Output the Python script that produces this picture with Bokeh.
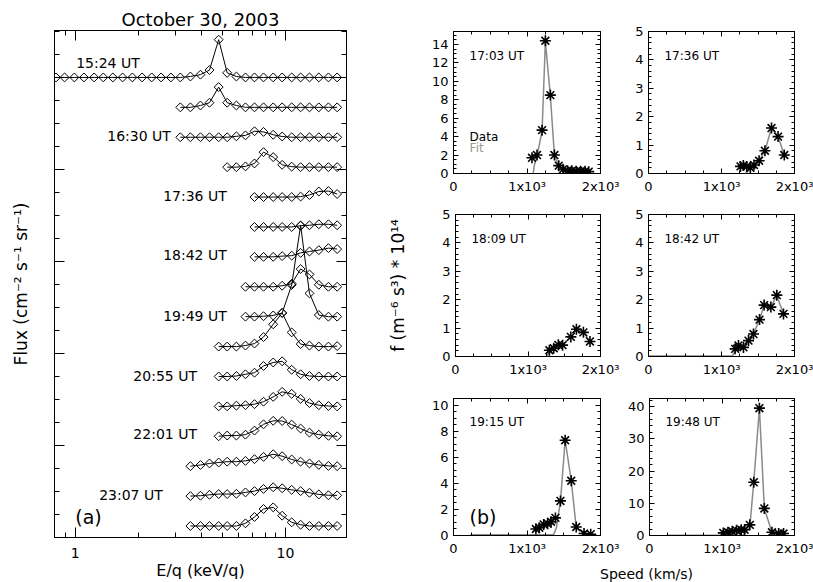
import math
from bokeh.plotting import figure
from bokeh.models import FixedTicker, LinearAxis, LogAxis, CustomJSTickFormatter
from bokeh.layouts import row, column
from bokeh.embed import file_html
from bokeh.resources import INLINE
from bokeh.core.properties import value

FONT = "DejaVu Sans"

# ---------------- panel (a): stacked E/q spectra ----------------
E_KEV = [0.81, 0.89, 0.99, 1.10, 1.23, 1.36, 1.51, 1.68, 1.87, 2.08, 2.31, 2.56, 2.85,
         3.16, 3.53, 3.94, 4.35, 4.81, 5.28, 5.84, 6.45, 7.12, 7.86, 8.74, 9.64,
         10.7, 11.8, 13.0, 14.4, 16.0, 17.6]

SPEC_OFFSET = [5.000, 4.675, 4.350, 4.025, 3.700, 3.375, 3.050, 2.725,
               2.400, 2.075, 1.750, 1.425, 1.100, 0.775, 0.450, 0.125]
SPEC_START = [0, 13, 13, 18, 21, 21, 21, 20, 20, 17, 17, 17, 17, 14, 14, 14]
SPEC_FLUX = [
    [0, 0, 0, 0, 0, 0, 0, 0, 0, 0, 0, 0, 0, 0, 0.01, 0.03, 0.08, 0.41, 0.05, 0.01,
     0, 0, 0, 0, 0, 0, 0, 0, 0, 0, 0],
    [0, 0, 0.02, 0.05, 0.22, 0.05, 0.02, 0, 0, 0, 0, 0, 0, 0, 0, 0, 0, 0],
    [0, 0, 0, 0, 0, 0, 0.01, 0.02, 0.065, 0.058, 0.027, 0.008, 0, 0, 0, 0, 0, 0],
    [0, 0, 0.008, 0.04, 0.163, 0.109, 0.025, 0.005, 0, 0, 0, 0, 0],
    [0, 0, 0, 0, 0, 0.005, 0.022, 0.06, 0.065, 0.033],
    [0, 0, 0, 0, 0, 0.014, 0.018, 0.029, 0.029, 0.018],
    [0, 0, 0, 0.008, 0.013, 0.043, 0.058, 0.073, 0.095, 0.085],
    [0, 0, 0, 0, 0.011, 0.033, 0.193, 0.134, 0.022, 0, 0],
    [0, 0, 0.005, 0.013, 0.04, 0.345, 0.99, 0.253, 0.018, 0, 0],
    [0, 0, 0, 0.011, 0.033, 0.103, 0.242, 0.366, 0.154, 0.027, 0.011, 0, 0, 0.005],
    [0, 0, 0.005, 0.024, 0.041, 0.114, 0.152, 0.165, 0.073, 0.024, 0.005, 0, 0, 0],
    [0, 0, 0.008, 0.013, 0.024, 0.051, 0.103, 0.158, 0.136, 0.082, 0.036, 0.013, 0.004, 0],
    [0, 0.008, 0.008, 0.018, 0.062, 0.13, 0.168, 0.166, 0.127, 0.084, 0.04, 0.018, 0.005, 0],
    [0, 0.013, 0.03, 0.04, 0.049, 0.049, 0.058, 0.076, 0.101, 0.13, 0.109, 0.073, 0.049,
     0.03, 0.014, 0.003, 0],
    [0, 0.004, 0.014, 0.022, 0.022, 0.025, 0.04, 0.054, 0.078, 0.096, 0.085, 0.068, 0.054,
     0.036, 0.018, 0.009, 0.008],
    [0, 0, 0, 0, 0, 0, 0.029, 0.098, 0.185, 0.203, 0.112, 0.04, 0.014, 0, 0, 0, 0],
]
TIME_LABELS = ["15:24 UT", "16:30 UT", "17:36 UT", "18:42 UT",
               "19:49 UT", "20:55 UT", "22:01 UT", "23:07 UT"]
TIME_LABEL_X = [1.01, 1.42, 2.62, 2.62, 2.62, 1.89, 1.89, 1.30]
TIME_LABEL_Y = [5.16, 4.36, 3.71, 3.07, 2.41, 1.76, 1.12, 0.46]

# ---------------- panel (b): distribution functions ----------------
PANEL_TIMES = ["17:03 UT", "17:36 UT", "18:09 UT", "18:42 UT", "19:15 UT", "19:48 UT"]
SPEED = [
    [1068, 1136, 1205, 1250, 1318, 1373, 1432, 1490, 1550, 1610, 1670, 1730, 1790, 1840],
    [1260, 1300, 1345, 1395, 1445, 1515, 1595, 1685, 1775, 1860],
    [1295, 1355, 1418, 1477, 1591, 1668, 1764, 1855],
    [1187, 1233, 1301, 1370, 1438, 1521, 1584, 1676, 1758, 1849],
    [1121, 1167, 1227, 1281, 1327, 1387, 1455, 1519, 1602, 1670, 1776, 1867],
    [1018, 1082, 1142, 1200, 1265, 1311, 1384, 1438, 1516, 1584, 1689, 1781, 1849],
]
F_DATA = [
    [1.7, 2.0, 4.7, 14.4, 8.5, 2.0, 0.85, 0.45, 0.3, 0.3, 0.25, 0.25, 0.25, 0.2],
    [0.25, 0.28, 0.25, 0.2, 0.3, 0.45, 0.8, 1.6, 1.3, 0.65],
    [0.22, 0.29, 0.41, 0.40, 0.69, 0.96, 0.85, 0.53],
    [0.27, 0.39, 0.32, 0.56, 0.79, 1.3, 1.81, 1.74, 2.16, 1.5],
    [0.5, 0.6, 0.85, 0.9, 1.05, 1.35, 2.65, 7.3, 4.2, 0.65, 0.15, 0.1],
    [0.8, 1.0, 1.3, 1.6, 1.8, 1.8, 3.3, 16.5, 39.5, 8.4, 1.0, 0.6, 0.6],
]
FIT_SPEED = [
    [1085, 1100, 1136, 1205, 1250, 1318, 1373, 1432, 1490, 1550, 1610, 1670, 1730, 1790, 1840],
    [1330, 1395, 1445, 1515, 1595, 1685, 1775, 1860],
    [1250, 1295, 1355, 1418, 1477, 1591, 1668, 1764, 1855],
    [0, 1150, 1187, 1233, 1301, 1370, 1438, 1521, 1584, 1676, 1758, 1849],
    [230, 1360, 1400, 1455, 1519, 1602, 1670, 1776, 1867],
    [250, 1300, 1384, 1438, 1516, 1584, 1689, 1781, 1849],
]
F_FIT = [
    [0.0, 0.9, 1.9, 4.6, 14.3, 8.4, 2.0, 0.8, 0.4, 0.3, 0.25, 0.25, 0.25, 0.2, 0.2],
    [0.0, 0.18, 0.3, 0.45, 0.8, 1.6, 1.3, 0.65],
    [0.0, 0.15, 0.27, 0.38, 0.42, 0.68, 0.95, 0.84, 0.52],
    [0.02, 0.02, 0.2, 0.33, 0.36, 0.56, 0.79, 1.3, 1.8, 1.74, 2.15, 1.5],
    [0.05, 0.05, 0.6, 2.6, 7.3, 4.2, 0.6, 0.15, 0.1],
    [0.1, 0.1, 2.8, 16.5, 39.5, 8.4, 1.0, 0.5, 0.5],
]
Y_MAX = [15.4, 5.0, 5.0, 5.0, 10.5, 42.5]
Y_STEP = [2, 1, 1, 1, 2, 10]
Y_MINOR = [0.5, 0.2, 0.2, 0.2, 0.5, 2]
X_TICK_LABELS = {0: "0", 1000: "1x10³", 2000: "2x10³"}

BLANK = CustomJSTickFormatter(code="return ''")


def style_axis(ax, major_in, minor_in, label_size=None, standoff=4):
    ax.axis_line_color = "black"
    ax.axis_line_width = 1
    ax.major_tick_in = major_in
    ax.major_tick_out = 0
    ax.minor_tick_in = minor_in
    ax.minor_tick_out = 0
    ax.major_tick_line_color = "black"
    ax.minor_tick_line_color = "black"
    ax.major_label_text_font = FONT
    ax.major_label_text_color = "black"
    if label_size:
        ax.major_label_standoff = standoff
        ax.major_label_text_font_size = label_size
    else:
        ax.major_label_standoff = 0
        ax.major_label_text_font_size = "1px"
        ax.formatter = BLANK
    ax.axis_label_text_font = FONT
    ax.axis_label_text_font_style = "normal"
    ax.axis_label_text_color = "black"


# ---------------- build panel (a) ----------------
pa = figure(width=385, height=582, x_axis_type="log", x_range=(0.797, 19.5),
            y_range=(0, 5.51), output_backend="svg", toolbar_location=None,
            min_border_left=54, min_border_right=39, min_border_top=30,
            min_border_bottom=45, title="October 30, 2003")
pa.grid.visible = False
pa.outline_line_color = "black"
pa.title.align = "center"
pa.title.text_font = FONT
pa.title.text_font_size = "18px"
pa.title.text_font_style = "normal"
pa.title.text_color = "black"
pa.title.standoff = 2

xt_a = FixedTicker(ticks=[1, 10], minor_ticks=[0.9, 2, 3, 4, 5, 6, 7, 8, 9])
yt_a = FixedTicker(ticks=[0, 1, 2, 3, 4, 5],
                   minor_ticks=[k * 0.25 for k in range(1, 23) if k % 4])
pa.xaxis.ticker = xt_a
pa.yaxis.ticker = yt_a
for ax in pa.xaxis:
    style_axis(ax, 10, 5, "14px", 10)
    ax.major_label_overrides = {1: "1", 10: "10"}
    ax.axis_label = "E/q (keV/q)"
    ax.axis_label_text_font_size = "16px"
    ax.axis_label_standoff = 0
for ax in pa.yaxis:
    style_axis(ax, 10, 5)
    ax.axis_label = "Flux (cm⁻² s⁻¹ sr⁻¹)"
    ax.axis_label_text_font_size = "17px"
    ax.axis_label_standoff = 24
top_a = LogAxis(ticker=xt_a)
style_axis(top_a, 10, 5)
pa.add_layout(top_a, "above")
right_a = LinearAxis(ticker=yt_a)
style_axis(right_a, 10, 5)
pa.add_layout(right_a, "right")

for off, start, flux in zip(SPEC_OFFSET, SPEC_START, SPEC_FLUX):
    xs = E_KEV[start:start + len(flux)]
    ys = [off + f for f in flux]
    pa.line(xs, ys, line_color="black", line_width=1)
    pa.scatter(xs, ys, marker="square", angle=math.pi / 4, size=6.3,
               fill_color=None, line_color="black", line_width=1)

pa.text(x=TIME_LABEL_X, y=TIME_LABEL_Y, text=TIME_LABELS, text_font=value(FONT),
        text_font_size="14px", text_align="left", text_baseline="middle",
        text_color="black")
pa.text(x=[1.0], y=[0.22], text=["(a)"], text_font=value(FONT), text_font_size="19px",
        text_align="left", text_baseline="middle", text_color="black")


# ---------------- build panel (b) ----------------
def small_panel(i, width, height, bl, br, bt, bb, ylabel=None, legend=False, tag=None):
    ymax = Y_MAX[i]
    q = figure(width=width, height=height, x_range=(0, 2000), y_range=(0, ymax),
               output_backend="svg", toolbar_location=None,
               min_border_left=bl, min_border_right=br, min_border_top=bt,
               min_border_bottom=bb)
    q.grid.visible = False
    q.outline_line_color = "black"
    xt = FixedTicker(ticks=[0, 1000, 2000], minor_ticks=[250, 500, 750, 1250, 1500, 1750])
    step = Y_STEP[i]
    nmaj = int(ymax // step) + 1
    yt = FixedTicker(ticks=[k * step for k in range(nmaj)],
                     minor_ticks=[k * Y_MINOR[i] for k in range(1, int(ymax / Y_MINOR[i]) + 1)])
    q.xaxis.ticker = xt
    q.yaxis.ticker = yt
    for ax in q.xaxis:
        style_axis(ax, 5, 3, "13px", 5)
        ax.major_label_overrides = X_TICK_LABELS
    for ax in q.yaxis:
        style_axis(ax, 5, 3, "13px", 5)
        if ylabel:
            ax.axis_label = ylabel
            ax.axis_label_text_font_size = "17px"
            ax.axis_label_standoff = 31
    ta = LinearAxis(ticker=xt)
    style_axis(ta, 5, 3)
    q.add_layout(ta, "above")
    ra = LinearAxis(ticker=yt)
    style_axis(ra, 5, 3)
    q.add_layout(ra, "right")

    q.line(FIT_SPEED[i], F_FIT[i], line_color="#8a8a8a", line_width=1.5)
    q.scatter(SPEED[i], F_DATA[i], marker="asterisk", size=11, line_color="black",
              line_width=1.6)
    q.text(x=[219], y=[ymax * (1 - 24 / 142)], text=[PANEL_TIMES[i]],
           text_font=value(FONT), text_font_size="12px", text_align="left",
           text_baseline="middle", text_color="black")
    if legend:
        q.text(x=[219, 219], y=[ymax * 37 / 142, ymax * 26 / 142], text=["Data", "Fit"],
               text_font=value(FONT), text_font_size="12px", text_align="left",
               text_baseline="middle", text_color=["black", "#9a9a9a"])
    if tag:
        q.text(x=[219], y=[ymax * 19 / 141], text=[tag], text_font=value(FONT),
               text_font_size="19px", text_align="left", text_baseline="middle",
               text_color="black")
    return q


W1, W2 = 239, 189
p1 = small_panel(0, W1, 198, 68, 24, 31, 25, legend=True)
p2 = small_panel(1, W2, 198, 24, 19, 31, 25)
p3 = small_panel(2, W1, 184, 68, 24, 16, 26, ylabel="f (m⁻⁶ s³) * 10¹⁴")
p4 = small_panel(3, W2, 184, 24, 19, 16, 26)
p5 = small_panel(4, W1, 176, 68, 24, 16, 19, tag="(b)")
p6 = small_panel(5, W2, 176, 24, 19, 16, 19)

xl = figure(width=W1 + W2, height=24, x_range=(0, W1 + W2), y_range=(0, 24),
            output_backend="svg", toolbar_location=None, min_border=0,
            x_axis_location=None, y_axis_location=None)
xl.grid.visible = False
xl.outline_line_color = None
xl.text(x=[261], y=[9], text=["Speed (km/s)"], text_font=value(FONT),
        text_font_size="14px", text_align="center", text_baseline="middle",
        text_color="black")

right_block = column(row(p1, p2), row(p3, p4), row(p5, p6), xl)
layout = row(pa, right_block)

open("out.html", "w").write(file_html(layout, INLINE))
